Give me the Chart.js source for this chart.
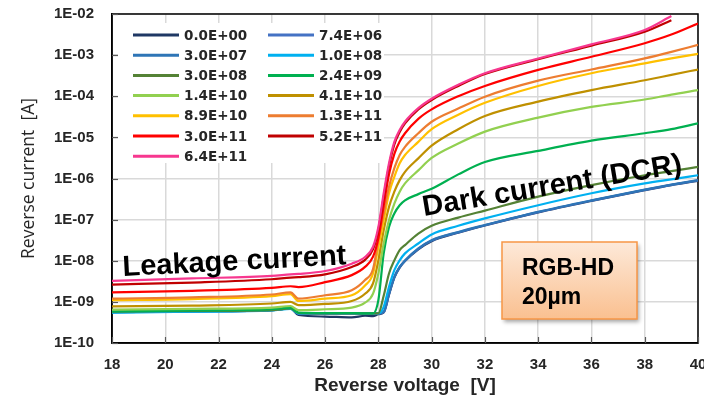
<!DOCTYPE html>
<html>
<head>
<meta charset="utf-8">
<title>Reverse current vs voltage</title>
<script src="https://cdn.jsdelivr.net/npm/chart.js@4.4.1/dist/chart.umd.min.js"></script>
<style>
  html, body { margin: 0; padding: 0; background: #fff; overflow: hidden; }
  #wrap { position: absolute; left: 0; top: 0; width: 714px; height: 397px; }
</style>
</head>
<body>
<div id="wrap"><canvas id="ivChart"></canvas></div>
<script>
// bias voltage [V]
const voltages = [18, 21, 24, 24.7, 25, 26, 27, 27.5, 27.8, 28, 28.2, 28.4, 28.6, 28.8, 29, 29.5, 30, 31, 32, 34, 36, 38, 39, 40];

// fluence labels (legend)
const doseLabels = ['0.0E+00', '7.4E+06', '3.0E+07', '1.0E+08', '3.0E+08', '2.4E+09', '1.4E+10',
  '4.1E+10', '8.9E+10', '1.3E+11', '3.0E+11', '5.2E+11', '6.4E+11'];

// reverse current [A] per fluence
const cur_0 = [5.6e-10, 5.9e-10, 6.3e-10, 6.9e-10, 4.8e-10, 4.4e-10, 4.2e-10, 4.6e-10, 4.5e-10, 5.0e-10, 5.5e-10, 1.5e-9, 3.9e-9, 6.8e-9, 9.8e-9, 1.9e-8, 3.0e-8, 4.8e-8, 7.2e-8, 1.5e-7, 2.85e-7, 5.2e-7, 6.9e-7, 8.8e-7];
const cur_7e6 = [5.6e-10, 5.9e-10, 6.3e-10, 6.9e-10, 5.2e-10, 5.2e-10, 5.2e-10, 5.2e-10, 5.2e-10, 5.2e-10, 5.6e-10, 1.55e-9, 4.0e-9, 7.0e-9, 1.0e-8, 1.95e-8, 3.1e-8, 4.9e-8, 7.3e-8, 1.52e-7, 2.9e-7, 5.3e-7, 7.0e-7, 9.0e-7];
const cur_3e7 = [5.62e-10, 5.89e-10, 6.31e-10, 6.92e-10, 5.25e-10, 5.25e-10, 5.25e-10, 5.25e-10, 5.25e-10, 5.25e-10, 5.75e-10, 1.58e-9, 4.07e-9, 7.08e-9, 1.02e-8, 2.0e-8, 3.16e-8, 5.01e-8, 7.41e-8, 1.55e-7, 2.95e-7, 5.37e-7, 7.08e-7, 9.12e-7];
const cur_1e8 = [5.5e-10, 5.75e-10, 6.17e-10, 6.76e-10, 5.25e-10, 5.25e-10, 5.25e-10, 5.25e-10, 5.25e-10, 5.25e-10, 7.59e-10, 2.34e-9, 5.89e-9, 1.02e-8, 1.51e-8, 2.63e-8, 4.37e-8, 7.08e-8, 1.07e-7, 2.24e-7, 4.37e-7, 7.59e-7, 9.55e-7, 1.2e-6];
const cur_3e8 = [5.75e-10, 6.03e-10, 6.31e-10, 6.92e-10, 5.37e-10, 5.25e-10, 5.25e-10, 5.25e-10, 5.25e-10, 5.25e-10, 1.41e-9, 4.9e-9, 1.02e-8, 1.82e-8, 2.4e-8, 4.57e-8, 7.08e-8, 1.12e-7, 1.66e-7, 3.63e-7, 6.92e-7, 1.2e-6, 1.51e-6, 1.91e-6];
const cur_2e9 = [5.89e-10, 6.17e-10, 6.61e-10, 7.24e-10, 5.5e-10, 5.37e-10, 5.37e-10, 5.25e-10, 5.25e-10, 1.1e-9, 1.51e-8, 6.61e-8, 1.41e-7, 2.24e-7, 2.95e-7, 4.17e-7, 5.62e-7, 1.26e-6, 2.51e-6, 4.68e-6, 8.32e-6, 1.26e-5, 1.58e-5, 2.19e-5];
const cur_1e10 = [6.46e-10, 6.76e-10, 7.24e-10, 7.94e-10, 6.31e-10, 6.61e-10, 7.24e-10, 9.55e-10, 1.58e-9, 4.9e-9, 2.63e-8, 9.77e-8, 2.45e-7, 4.79e-7, 7.59e-7, 1.58e-6, 3.16e-6, 7.08e-6, 1.38e-5, 3.02e-5, 5.5e-5, 8.32e-5, 1.1e-4, 1.41e-4];
const cur_4e10 = [7.76e-10, 8.13e-10, 9.12e-10, 1.0e-9, 8.32e-10, 8.91e-10, 1.05e-9, 1.58e-9, 2.82e-9, 1.02e-8, 5.5e-8, 2.04e-7, 4.79e-7, 9.12e-7, 1.45e-6, 3.09e-6, 6.31e-6, 1.58e-5, 3.31e-5, 7.41e-5, 1.41e-4, 2.45e-4, 3.31e-4, 4.47e-4];
const cur_9e10 = [1.1e-9, 1.17e-9, 1.38e-9, 1.55e-9, 1.05e-9, 1.2e-9, 1.45e-9, 2.51e-9, 4.9e-9, 2.19e-8, 9.77e-8, 4.37e-7, 1.1e-6, 2.34e-6, 3.72e-6, 7.76e-6, 1.58e-5, 3.55e-5, 6.92e-5, 1.78e-4, 3.63e-4, 6.31e-4, 8.32e-4, 1.07e-3];
const cur_1e11 = [1.2e-9, 1.29e-9, 1.51e-9, 1.7e-9, 1.2e-9, 1.45e-9, 1.91e-9, 3.39e-9, 6.31e-9, 3.16e-8, 1.41e-7, 6.31e-7, 1.78e-6, 3.72e-6, 5.89e-6, 1.26e-5, 2.4e-5, 5.01e-5, 9.77e-5, 2.4e-4, 4.47e-4, 8.32e-4, 1.2e-3, 1.78e-3];
const cur_3e11 = [1.7e-9, 1.86e-9, 2.19e-9, 2.4e-9, 2.29e-9, 3.02e-9, 4.47e-9, 7.08e-9, 1.26e-8, 3.55e-8, 2.24e-7, 1.26e-6, 3.98e-6, 7.94e-6, 1.26e-5, 2.82e-5, 4.79e-5, 1.0e-4, 1.78e-4, 4.37e-4, 9.12e-4, 1.95e-3, 3.16e-3, 5.89e-3];
const cur_5e11 = [2.63e-9, 2.95e-9, 3.55e-9, 3.89e-9, 3.98e-9, 4.68e-9, 7.08e-9, 1.05e-8, 1.91e-8, 5.62e-8, 3.55e-7, 2.0e-6, 6.76e-6, 1.35e-5, 2.19e-5, 4.79e-5, 8.13e-5, 1.78e-4, 3.47e-4, 7.94e-4, 1.7e-3, 3.72e-3, 7.08e-3, null];
const cur_6e11 = [3.24e-9, 3.72e-9, 4.27e-9, 4.68e-9, 4.79e-9, 5.62e-9, 8.5e-9, 1.23e-8, 2.19e-8, 6.6e-8, 4.37e-7, 2.34e-6, 7.76e-6, 1.51e-5, 2.4e-5, 5.13e-5, 8.7e-5, 1.9e-4, 3.63e-4, 8.3e-4, 1.82e-3, 4.07e-3, 8.9e-3, null];

// y axis decades
const yTicks = [1e-10, 1e-9, 1e-8, 1e-7, 1e-6, 1e-5, 1e-4, 1e-3, 1e-2];

const series = [cur_0, cur_7e6, cur_3e7, cur_1e8, cur_3e8, cur_2e9, cur_1e10, cur_4e10, cur_9e10, cur_1e11, cur_3e11, cur_5e11, cur_6e11];
const colors = ['#1f3864', '#4472c4', '#2e75b6', '#00b0f0', '#548235', '#00b050', '#92d050',
  '#bf9000', '#ffc000', '#ed7d31', '#ff0000', '#c00000', '#f7378f'];

const SANS = '"Liberation Sans", Arial, sans-serif';

// frame, inner ticks and the two-column legend, drawn above the grid
const legendBox = {
  id: 'legendBox',
  beforeDatasetsDraw(chart) {
    const ctx = chart.ctx;
    const a = chart.chartArea;
    ctx.save();
    ctx.strokeStyle = '#000';
    ctx.lineWidth = 1.5;
    ctx.strokeRect(a.left, a.top, a.right - a.left, a.bottom - a.top);
    ctx.strokeStyle = '#595959';
    ctx.lineWidth = 1.2;
    chart.scales.y.ticks.forEach(t => {
      const y = Math.round(chart.scales.y.getPixelForValue(t.value)) + 0.5;
      ctx.beginPath(); ctx.moveTo(a.left, y); ctx.lineTo(a.left + 6, y); ctx.stroke();
    });
    chart.scales.x.ticks.forEach(t => {
      const x = Math.round(chart.scales.x.getPixelForValue(t.value)) + 0.5;
      ctx.beginPath(); ctx.moveTo(x, a.bottom); ctx.lineTo(x, a.bottom - 6); ctx.stroke();
    });

    ctx.fillStyle = '#fff';
    ctx.fillRect(a.left + 6, a.top + 9, 266, 140);
    ctx.font = 'bold 13.5px "DejaVu Sans", Verdana, sans-serif';
    ctx.textBaseline = 'middle';
    ctx.textAlign = 'left';
    doseLabels.forEach((lab, i) => {
      const col = i % 2, row = Math.floor(i / 2);
      const x0 = a.left + 21 + col * 135;
      const y = a.top + 21 + row * 20.2;
      ctx.strokeStyle = colors[i];
      ctx.lineWidth = 3;
      ctx.beginPath(); ctx.moveTo(x0, y); ctx.lineTo(x0 + 46, y); ctx.stroke();
      ctx.fillStyle = '#262626';
      ctx.fillText(lab, x0 + 51, y + 1);
    });
    ctx.restore();
  }
};

// region labels and the sample tag
const notes = {
  id: 'notes',
  afterDatasetsDraw(chart) {
    const ctx = chart.ctx;
    ctx.save();
    ctx.fillStyle = '#000';
    ctx.textBaseline = 'alphabetic';
    ctx.textAlign = 'left';

    ctx.save();
    ctx.translate(123, 276);
    ctx.rotate(-3 * Math.PI / 180);
    ctx.font = 'bold 29px ' + SANS;
    ctx.fillText('Leakage current', 0, 0);
    ctx.restore();

    ctx.save();
    ctx.translate(424, 216);
    ctx.rotate(-9.5 * Math.PI / 180);
    ctx.font = 'bold 29px ' + SANS;
    ctx.fillText('Dark current (DCR)', 0, 0);
    ctx.restore();

    // tag box
    const bx = 502, by = 242, bw = 135, bh = 77;
    ctx.save();
    ctx.shadowColor = 'rgba(0,0,0,0.35)';
    ctx.shadowBlur = 4;
    ctx.shadowOffsetX = 2;
    ctx.shadowOffsetY = 3;
    const g = ctx.createLinearGradient(0, by, 0, by + bh);
    g.addColorStop(0, '#fde9d9');
    g.addColorStop(1, '#fac090');
    ctx.fillStyle = g;
    ctx.fillRect(bx, by, bw, bh);
    ctx.restore();
    ctx.strokeStyle = '#f79646';
    ctx.lineWidth = 1.5;
    ctx.strokeRect(bx, by, bw, bh);
    ctx.fillStyle = '#000';
    ctx.font = 'bold 23px ' + SANS;
    ctx.fillText('RGB-HD', bx + 20, by + 33);
    ctx.fillText('20µm', bx + 20, by + 62);
    ctx.restore();
  }
};

new Chart(document.getElementById('ivChart'), {
  type: 'line',
  data: {
    datasets: series.map((s, i) => ({
      label: doseLabels[i],
      data: voltages.map((v, k) => ({ x: v, y: s[k] })),
      borderColor: colors[i],
      backgroundColor: colors[i],
      borderWidth: 2.2,
      pointRadius: 0,
      cubicInterpolationMode: 'monotone',
      order: series.length - i   // higher fluence drawn on top
    }))
  },
  options: {
    responsive: true,
    maintainAspectRatio: false,
    animation: false,
    layout: { padding: { top: 14, right: 16, bottom: 0, left: 0 } },
    plugins: { legend: { display: false }, tooltip: { enabled: false } },
    scales: {
      x: {
        type: 'linear',
        min: 18, max: 40,
        afterFit: s => { s.height = 54; },
        ticks: { stepSize: 2, maxRotation: 0, autoSkip: false, padding: 3, color: '#262626', font: { family: SANS, size: 15, weight: 'bold' } },
        // invisible tick marks only push the labels away from the axis
        grid: { color: '#d9d9d9', lineWidth: 1.5, drawTicks: true, tickLength: 10, tickColor: 'rgba(0,0,0,0)' },
        border: { color: '#000', width: 1.5 },
        title: { display: true, text: 'Reverse voltage  [V]', color: '#262626', padding: { top: 0, bottom: 0 },
          font: { family: SANS, size: 19, weight: 'bold' } }
      },
      y: {
        type: 'logarithmic',
        min: 1e-10, max: 1e-2,
        afterFit: s => { s.width = 112; },
        afterBuildTicks: s => { s.ticks = yTicks.map(v => ({ value: v })); },
        ticks: {
          padding: 3, color: '#262626',
          font: { family: SANS, size: 15, weight: 'bold' },
          callback: v => '1E-' + String(-Math.round(Math.log10(v))).padStart(2, '0')
        },
        grid: { color: '#d9d9d9', lineWidth: 1.5, drawTicks: true, tickLength: 15, tickColor: 'rgba(0,0,0,0)' },
        border: { color: '#000', width: 1.5 },
        title: { display: true, text: 'Reverse current  [A]', color: '#262626', padding: { top: 19, bottom: 0 },
          font: { family: '"Open Sans", Arial, sans-serif', size: 17.5 } }
      }
    }
  },
  plugins: [legendBox, notes]
});
</script>
</body>
</html>
